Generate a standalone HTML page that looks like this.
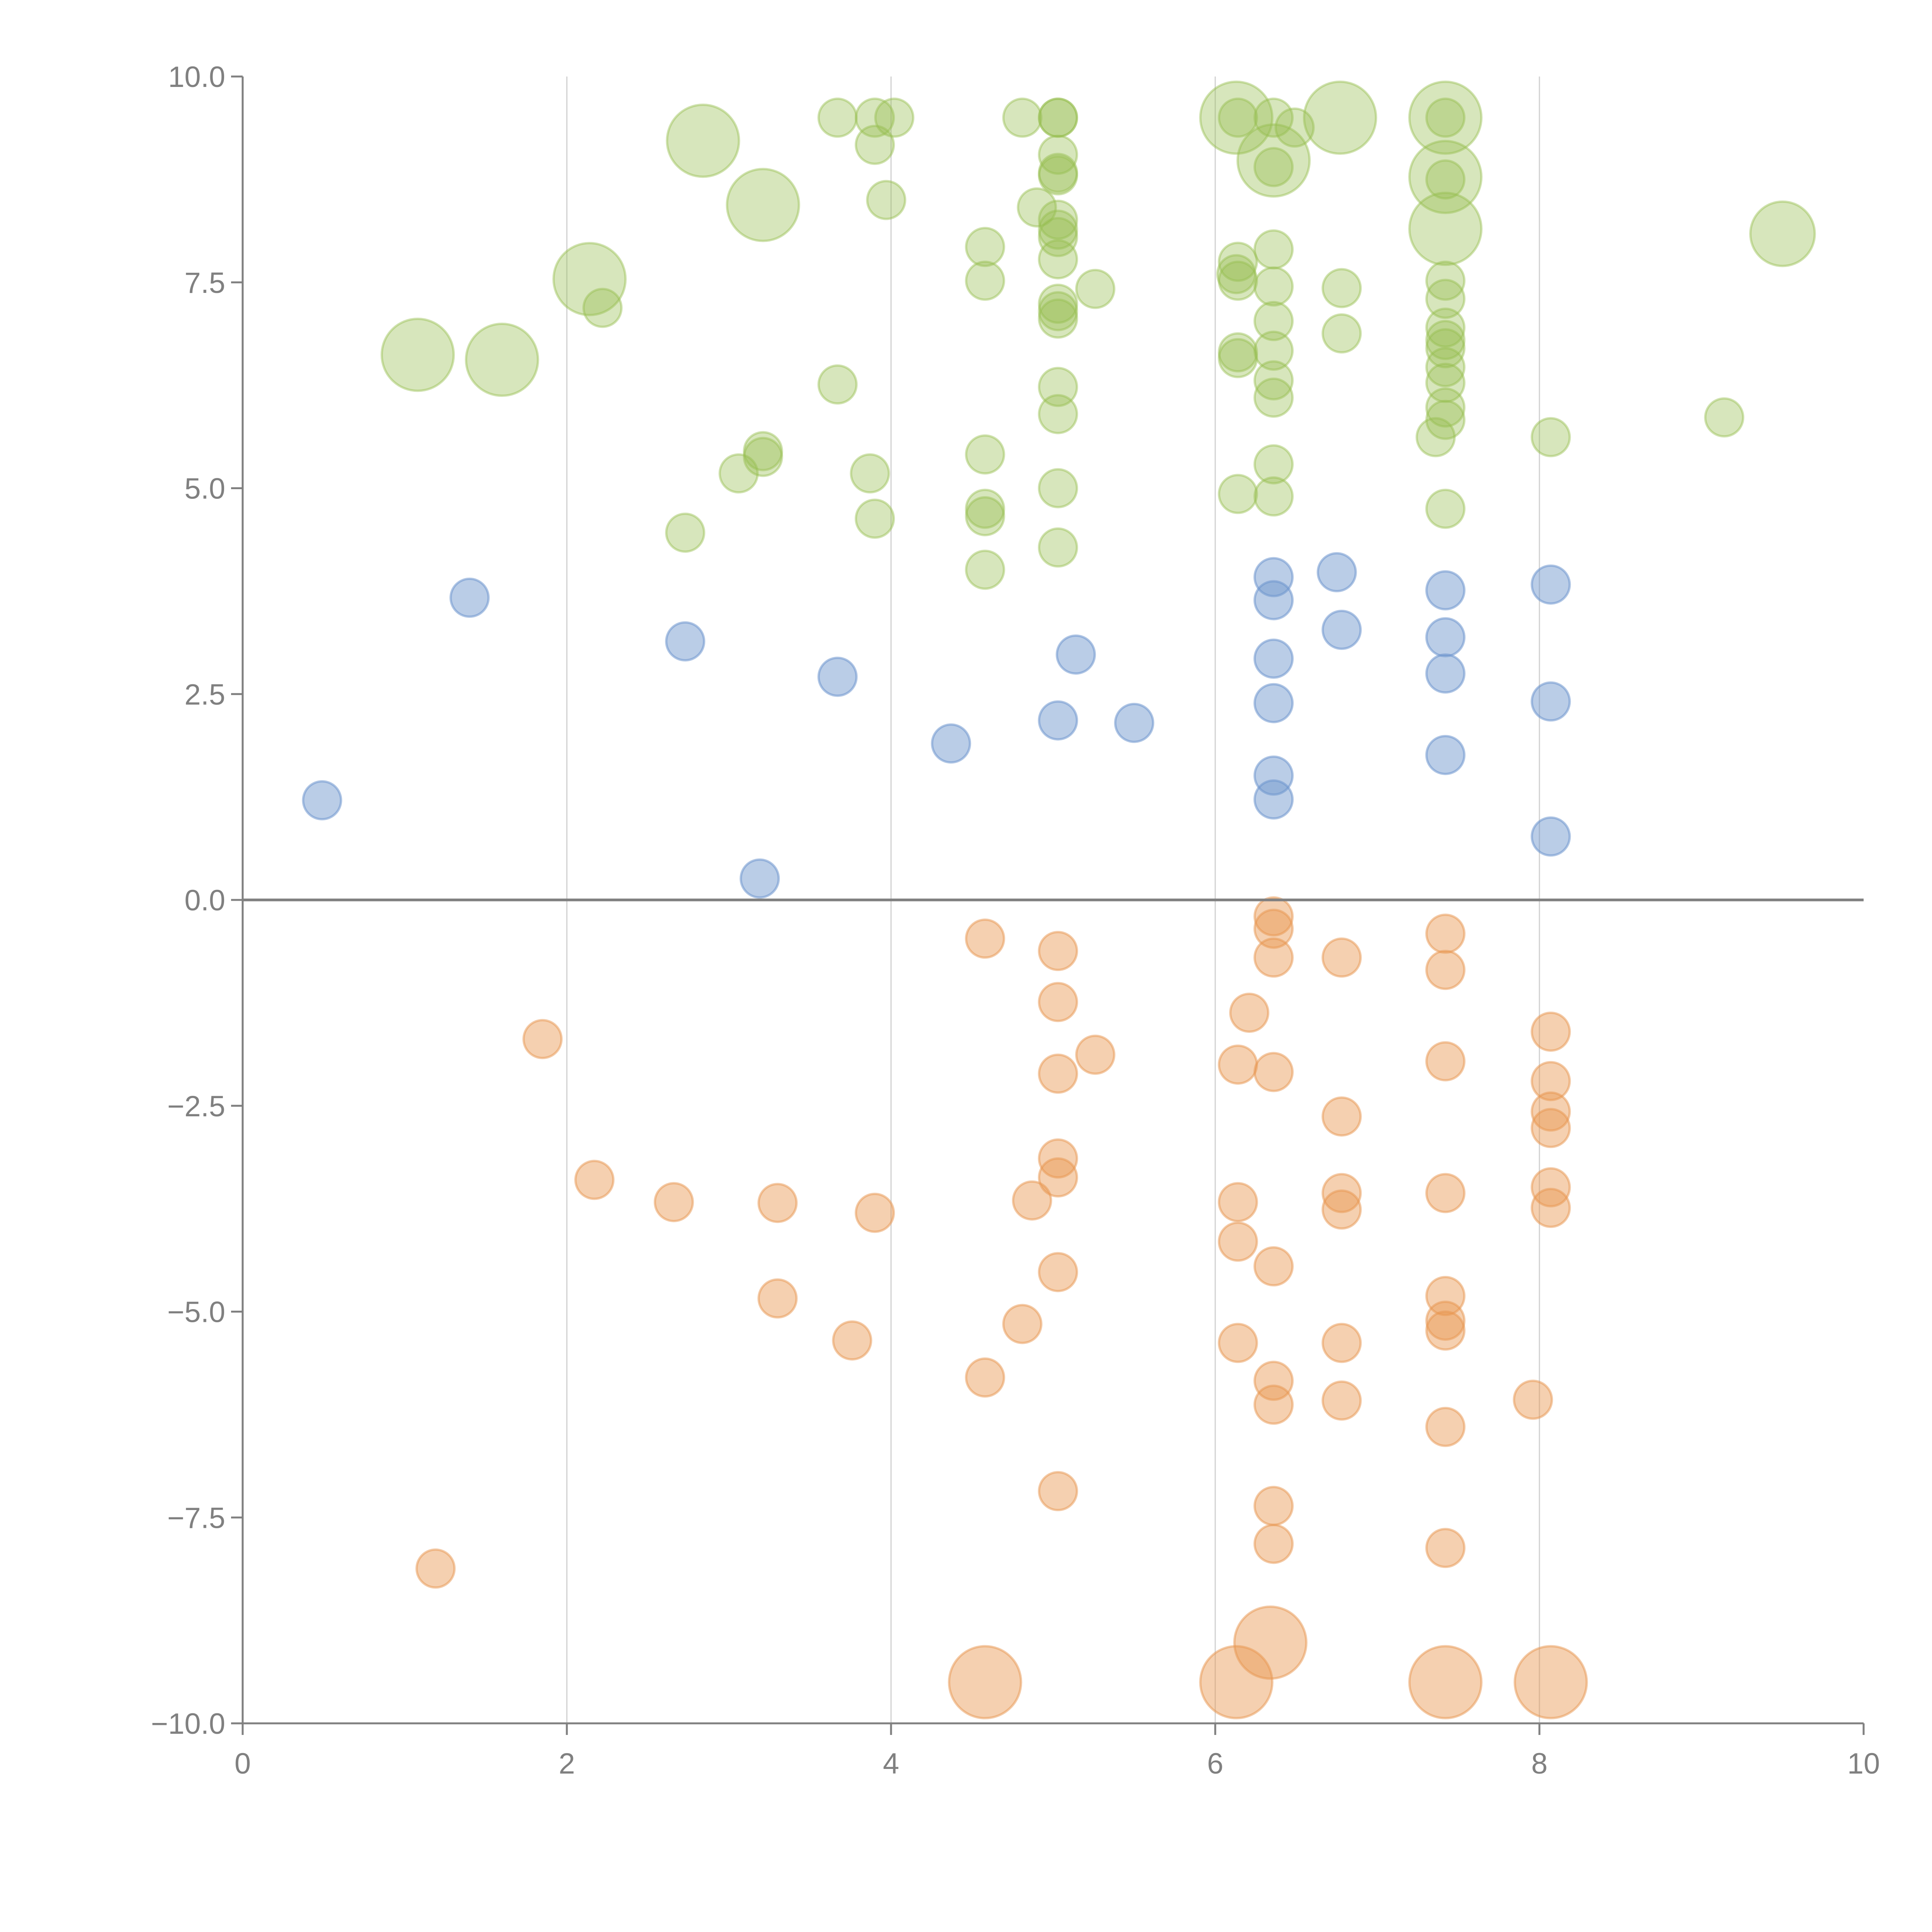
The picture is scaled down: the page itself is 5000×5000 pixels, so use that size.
<!DOCTYPE html>
<html><head><meta charset="utf-8"><style>
html,body{margin:0;padding:0;background:#fff;}
svg{display:block;font-family:"Liberation Sans",sans-serif;}
</style></head><body>
<svg id="chart" width="5000" height="5000" viewBox="0 0 5000 5000" xmlns="http://www.w3.org/2000/svg">
<g id="grid"></g>
<g id="marks"></g>
<g id="axes"></g>
</svg>
<script>
const xTicks=[0,2,4,6,8,10];
const yTicks=[10,7.5,5,2.5,0,-2.5,-5,-7.5,-10];
const yTickLabels=["10.0","7.5","5.0","2.5","0.0","\u22122.5","\u22125.0","\u22127.5","\u221210.0"];

const greenX=[3.67,3.90,4.02,4.81,5.03,5.03,6.13,6.14,6.36,6.49,6.77,7.42,7.42,
2.84,3.90,6.36,6.36,5.03,5.03,5.03,7.42,7.42,
3.21,3.97,4.90,7.42,9.50,5.03,5.03,5.03,4.58,5.03,6.36,6.14,
2.14,2.22,4.58,5.26,6.13,6.14,6.36,6.78,7.42,5.03,5.03,5.03,7.42,
1.08,1.60,6.36,6.78,7.42,7.42,6.14,6.14,6.36,7.42,7.42,7.42,
3.67,5.03,6.36,6.36,7.42,7.42,5.03,9.14,7.36,8.07,3.21,3.21,4.58,
3.06,3.87,6.36,6.14,6.36,5.03,4.58,4.58,7.42,3.90,2.73,5.03,4.58];
const greenY=[9.50,9.50,9.50,9.50,9.50,9.50,9.50,9.50,9.50,9.38,9.50,9.50,9.50,
9.22,9.17,8.98,8.90,9.05,8.83,8.80,8.78,8.75,
8.44,8.50,8.41,8.15,8.09,8.26,8.14,8.05,7.93,7.78,7.90,7.75,
7.54,7.19,7.52,7.42,7.60,7.52,7.45,7.43,7.52,7.24,7.15,7.06,7.30,
6.62,6.56,7.03,6.88,6.95,6.80,6.65,6.58,6.67,6.70,6.47,6.28,
6.26,6.23,6.31,6.10,5.98,5.83,5.90,5.86,5.62,5.62,5.45,5.38,5.41,
5.18,5.18,5.29,4.93,4.90,5.00,4.75,4.66,4.75,4.63,4.46,4.28,4.01];
const greenS=[1,1,1,1,1,1,1.9,1,1,1,1.9,1.9,1,
1.9,1,1.9,1,1,1,1,1.9,1,
1.9,1,1,1.9,1.7,1,1,1,1,1,1,1,
1.9,1,1,1,1,1,1,1,1,1,1,1,1,
1.9,1.9,1,1,1,1,1,1,1,1,1,1,
1,1,1,1,1,1,1,1,1,1,1,1,1,
1,1,1,1,1,1,1,1,1,1,1,1,1];

const blueX=[1.40,2.73,3.67,5.14,4.37,5.03,5.50,0.49,3.19,6.36,6.36,6.75,6.78,6.36,6.36,6.36,6.36,7.42,7.42,7.42,7.42,8.07,8.07,8.07];
const blueY=[3.67,3.14,2.71,2.98,1.90,2.18,2.15,1.21,0.26,3.92,3.64,3.98,3.28,2.93,2.39,1.51,1.22,3.76,3.19,2.75,1.76,3.83,2.41,0.77];

const orangeX=[4.58,5.03,5.03,5.26,5.03,1.85,6.36,6.36,6.36,6.78,7.42,7.42,6.21,6.14,6.36,7.42,8.07,8.07,6.78,8.07,8.07,
2.17,2.66,3.30,3.90,4.87,5.03,5.03,6.14,6.14,6.78,6.78,7.42,8.07,8.07,6.36,5.03,3.30,7.42,7.42,7.42,
3.76,4.81,6.14,6.78,4.58,6.36,6.36,6.78,7.96,7.42,5.03,6.36,6.36,7.42,1.19,
4.58,6.13,6.34,7.42,8.07];
const orangeY=[-0.47,-0.62,-1.24,-1.88,-2.11,-1.69,-0.20,-0.35,-0.70,-0.70,-0.41,-0.85,-1.37,-2.00,-2.09,-1.96,-1.60,-2.20,-2.63,-2.57,-2.77,
-3.40,-3.67,-3.68,-3.80,-3.65,-3.14,-3.37,-3.67,-4.15,-3.56,-3.76,-3.56,-3.49,-3.74,-4.45,-4.52,-4.84,-4.81,-5.11,-5.23,
-5.35,-5.15,-5.38,-5.38,-5.80,-5.84,-6.13,-6.08,-6.07,-6.40,-7.18,-7.36,-7.82,-7.87,-8.12,
-9.50,-9.50,-9.02,-9.50,-9.50];
const orangeS=[1,1,1,1,1,1,1,1,1,1,1,1,1,1,1,1,1,1,1,1,1,
1,1,1,1,1,1,1,1,1,1,1,1,1,1,1,1,1,1,1,1,
1,1,1,1,1,1,1,1,1,1,1,1,1,1,1,
1.9,1.9,1.9,1.9,1.9];

const X0=628,X1=4823,Y0=4460,Y1=198;
const xs=v=>X0+(v-0)/(10-0)*(X1-X0);
const ys=v=>Y0-(v+10)/20*(Y0-Y1);
const R=49;
const NS="http://www.w3.org/2000/svg";
function mk(tag,attrs,parent){const e=document.createElementNS(NS,tag);for(const k in attrs)e.setAttribute(k,attrs[k]);parent.appendChild(e);return e;}

const grid=document.getElementById('grid');
xTicks.slice(1,-1).forEach(t=>{
  const l=mk('line',{x1:xs(t),x2:xs(t),y1:Y1,y2:Y0,stroke:'#d0d0d0','stroke-width':3},grid);
  
  
});

const marks=document.getElementById('marks');
function series(xa,ya,sa,fill,stroke,name){
  xa.forEach((x,i)=>{
    const c=mk('circle',{cx:xs(x),cy:ys(ya[i]),r:R*(sa?sa[i]:1),fill:fill,stroke:stroke,'stroke-width':6},marks);
    
    
  });
}
series(greenX,greenY,greenS,'rgba(150,190,80,0.38)','rgba(150,190,80,0.45)','green-bubble');
series(blueX,blueY,null,'rgba(110,150,205,0.48)','rgba(110,150,205,0.55)','blue-bubble');
series(orangeX,orangeY,orangeS,'rgba(232,150,80,0.45)','rgba(232,150,80,0.5)','orange-bubble');

const axes=document.getElementById('axes');
const zl=mk('line',{x1:X0,x2:X1,y1:ys(0),y2:ys(0),stroke:'#808080','stroke-width':7},axes);


const ya=mk('line',{x1:X0,x2:X0,y1:Y1,y2:Y0,stroke:'#808080','stroke-width':5},axes);


const xa=mk('line',{x1:X0,x2:X1,y1:Y0,y2:Y0,stroke:'#808080','stroke-width':5},axes);


yTicks.forEach((t,i)=>{
  const tk=mk('line',{x1:X0-30,x2:X0,y1:ys(t),y2:ys(t),stroke:'#808080','stroke-width':5},axes);
  
  
  const tx=mk('text',{x:X0-45,y:ys(t)+27,'text-anchor':'end','font-size':76,fill:'#808080'},axes);
  tx.textContent=yTickLabels[i];
  
  
});
xTicks.forEach(t=>{
  const tk=mk('line',{x1:xs(t),x2:xs(t),y1:Y0,y2:Y0+30,stroke:'#808080','stroke-width':5},axes);
  
  
  const tx=mk('text',{x:xs(t),y:Y0+130,'text-anchor':'middle','font-size':76,fill:'#808080'},axes);
  tx.textContent=String(t);
  
  
});
</script>
</body></html>
